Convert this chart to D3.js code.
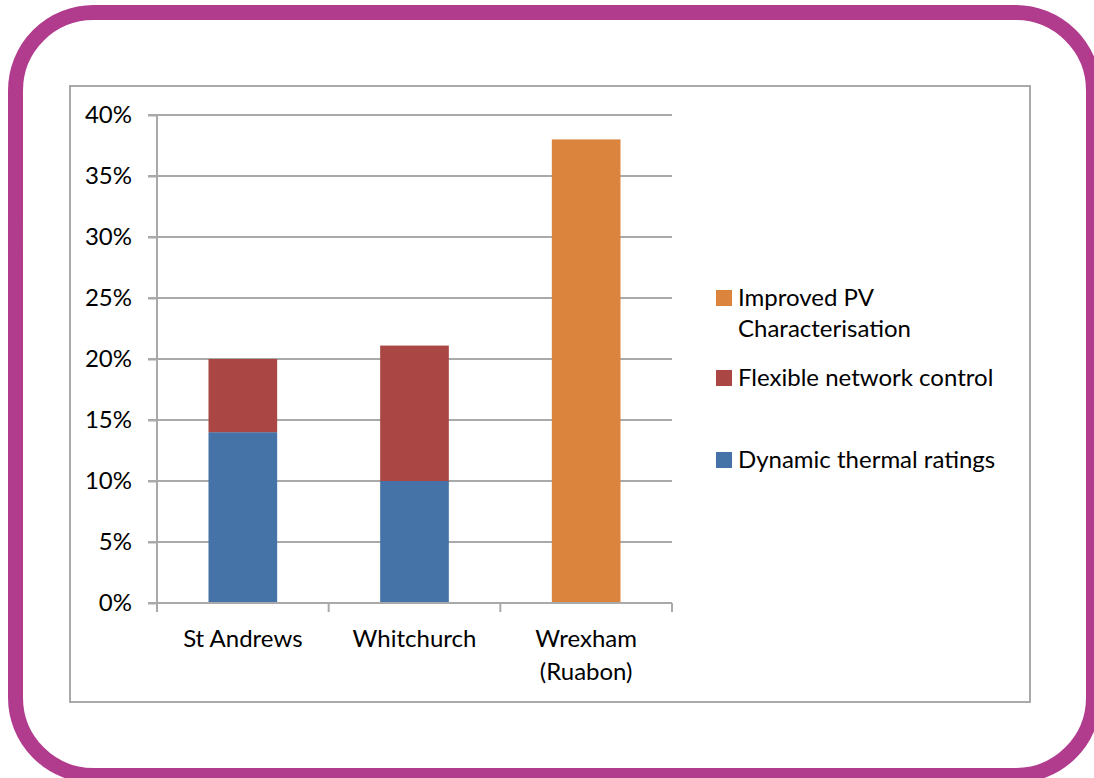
<!DOCTYPE html>
<html>
<head>
<meta charset="utf-8">
<script src="https://cdn.jsdelivr.net/npm/d3@7"></script>
<style>
  html, body { margin: 0; padding: 0; background: #fff; }
  svg { display: block; }
  svg text { font-family: Lato, "Open Sans", sans-serif; }
</style>
</head>
<body>
<svg id="chart" width="1094" height="778"></svg>
<script>
// values in percent
const categories = ['St Andrews', 'Whitchurch', 'Wrexham (Ruabon)'];
const categoryLines = [['St Andrews'], ['Whitchurch'], ['Wrexham', '(Ruabon)']];
const seriesNames = ['Dynamic thermal ratings', 'Flexible network control', 'Improved PV Characterisation'];
const dynamicThermal = [14, 10, 0];
const flexibleControl = [6, 11.1, 0];
const improvedPV = [0, 0, 38];
const yTicks = [0, 5, 10, 15, 20, 25, 30, 35, 40];

const colors = ['#4572a7', '#aa4643', '#db843d'];
const grid = '#a9a9a9';
const fontSize = '24px';

const svg = d3.select('#chart');

// purple rounded frame, partly cut off at right/bottom like the source
svg.append('rect')
  .attr('x', 15.5).attr('y', 12.5)
  .attr('width', 1078).attr('height', 763)
  .attr('rx', 78).attr('ry', 78)
  .style('fill', 'none')
  .style('stroke', '#b13b8d')
  .style('stroke-width', 15);

// chart area border
svg.append('rect')
  .attr('x', 70).attr('y', 86)
  .attr('width', 960).attr('height', 616)
  .style('fill', 'none')
  .style('stroke', grid)
  .style('stroke-width', 2);

const rows = categories.map((c, i) => ({
  cat: c,
  [seriesNames[0]]: dynamicThermal[i],
  [seriesNames[1]]: flexibleControl[i],
  [seriesNames[2]]: improvedPV[i]
}));
const stacked = d3.stack().keys(seriesNames)(rows);

const x = d3.scaleBand().domain(categories).range([157, 672]).paddingInner(0.6).paddingOuter(0.3);
const y = d3.scaleLinear().domain([0, 40]).range([603, 115]);

// gridlines
svg.append('g')
  .selectAll('line')
  .data(yTicks.filter(d => d > 0))
  .join('line')
  .attr('x1', 148).attr('x2', 672)
  .attr('y1', d => y(d)).attr('y2', d => y(d))
  .style('stroke', grid).style('stroke-width', 2);

// y axis
const yAxis = svg.append('g')
  .attr('transform', 'translate(157,0)')
  .call(d3.axisLeft(y).tickValues(yTicks).tickFormat(d => d + '%').tickSize(9).tickPadding(16));
yAxis.attr('font-family', null).attr('font-size', null);
yAxis.select('.domain').remove();
yAxis.selectAll('.tick line').style('stroke', grid).style('stroke-width', 2);
yAxis.selectAll('.tick text').style('font-size', fontSize).style('fill', '#000');
svg.append('line')
  .attr('x1', 157).attr('x2', 157).attr('y1', 115).attr('y2', 603)
  .style('stroke', grid).style('stroke-width', 2);

// bars
svg.append('g')
  .selectAll('g')
  .data(stacked)
  .join('g')
  .style('fill', (d, i) => colors[i])
  .selectAll('rect')
  .data(d => d.filter(p => p[1] > p[0]))
  .join('rect')
  .attr('x', d => x(d.data.cat))
  .attr('width', x.bandwidth())
  .attr('y', d => y(d[1]))
  .attr('height', d => y(d[0]) - y(d[1]));

// x axis
const step = (672 - 157) / categories.length;
svg.append('line')
  .attr('x1', 148).attr('x2', 672).attr('y1', 603).attr('y2', 603)
  .style('stroke', grid).style('stroke-width', 2);
svg.append('g')
  .selectAll('line')
  .data(d3.range(categories.length + 1))
  .join('line')
  .attr('x1', i => 157 + i * step).attr('x2', i => 157 + i * step)
  .attr('y1', 603).attr('y2', 612)
  .style('stroke', grid).style('stroke-width', 2);

const catLabels = svg.append('g')
  .selectAll('text')
  .data(categories)
  .join('text')
  .attr('x', d => x(d) + x.bandwidth() / 2)
  .attr('y', 647)
  .attr('text-anchor', 'middle')
  .style('font-size', fontSize)
  .style('fill', '#000');
catLabels.selectAll('tspan')
  .data((d, i) => categoryLines[i])
  .join('tspan')
  .attr('x', function () { return this.parentNode.getAttribute('x'); })
  .attr('dy', (d, i) => i === 0 ? 0 : 33)
  .text(d => d);

// legend (top to bottom: PV, flexible, dynamic)
const legendItems = [
  { name: seriesNames[2], lines: ['Improved PV', 'Characterisation'], color: colors[2], y: 298 },
  { name: seriesNames[1], lines: ['Flexible network control'], color: colors[1], y: 378 },
  { name: seriesNames[0], lines: ['Dynamic thermal ratings'], color: colors[0], y: 460 }
];
const lg = svg.append('g').selectAll('g').data(legendItems).join('g');
lg.append('rect')
  .attr('x', 716).attr('y', d => d.y - 8)
  .attr('width', 16).attr('height', 16)
  .style('fill', d => d.color);
lg.append('text')
  .attr('x', 738).attr('y', d => d.y + 8)
  .style('font-size', fontSize)
  .style('fill', '#000')
  .selectAll('tspan')
  .data(d => d.lines)
  .join('tspan')
  .attr('x', 738)
  .attr('dy', (d, i) => i === 0 ? 0 : 31)
  .text(d => d);
</script>
</body>
</html>
